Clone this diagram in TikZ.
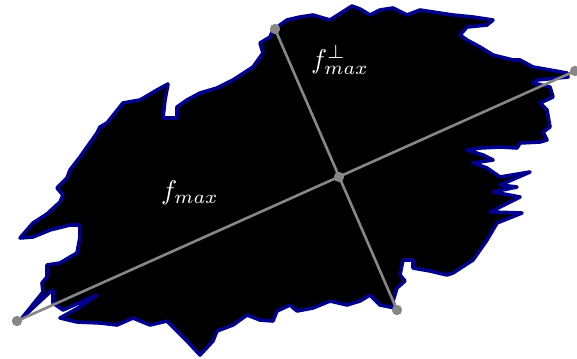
\documentclass[tikz,border=0pt]{standalone}
\begin{document}
\begin{tikzpicture}[x=1pt,y=-1pt,
  blob/.style={fill=black,draw={rgb,255:red,0;green,0;blue,140},line width=3.6pt,line join=round},
  axis/.style={draw={rgb,255:red,135;green,135;blue,135},line width=2.6pt},
  dot/.style={circle,fill={rgb,255:red,135;green,135;blue,135},inner sep=0pt,minimum size=10pt},
  lab/.style={text=white,scale=2.7,inner sep=0pt}]
\useasboundingbox (0,0) rectangle (577,358);
\path[blob] (300,17) -- (313,15) -- (330,20) -- (352,6) -- (360,9) -- (370,15) -- (380,10) -- (393,8)
 -- (407,15) -- (420,10) -- (433,12) -- (453,15) -- (473,17) -- (493,20) -- (487,25) -- (467,27)
 -- (460,35) -- (467,40) -- (480,47) -- (493,55) -- (513,60) -- (520,60) -- (533,67) -- (567,73)
 -- (568,77) -- (537,80) -- (533,83) -- (550,87) -- (553,97) -- (540,103) -- (547,110)
 -- (550,127) -- (543,132) -- (547,140) -- (540,142) -- (520,143) -- (517,148) -- (500,147)
 -- (480,148) -- (467,150) -- (483,155) -- (493,160) -- (473,163) -- (487,168) -- (500,177)
 -- (530,172) -- (500,185) -- (517,187) -- (493,192) -- (520,197) -- (490,212) -- (522,213)
 -- (497,223) -- (487,240) -- (473,260) -- (453,273) -- (447,275) -- (430,271) -- (413,268) -- (413,260)
 -- (403,260) -- (400,275) -- (405,281) -- (397,288) -- (393,301) -- (395,308)
 -- (380,305) -- (370,295) -- (360,301) -- (347,305) -- (330,301) -- (313,308) -- (297,311)
 -- (290,305) -- (277,311) -- (273,321) -- (260,320) -- (247,315) -- (233,325) -- (217,331)
 -- (213,341) -- (200,355) -- (187,341) -- (167,321) -- (150,325) -- (133,318) -- (117,325)
 -- (100,323) -- (77,322) -- (60,318) -- (80,307) -- (97,295) -- (63,310)
 -- (53,303) -- (53,290) -- (50,292) -- (22,318) -- (43,292) -- (42,283)
 -- (47,277) -- (47,265) -- (60,263) -- (70,257) -- (77,253) -- (80,237) -- (80,225)
 -- (70,225) -- (50,230) -- (33,237) -- (20,238) -- (33,223) -- (47,214) -- (60,202) -- (63,195)
 -- (57,188) -- (67,178) -- (70,170) -- (80,157) -- (97,133) -- (100,127) -- (107,123) -- (123,103)
 -- (140,100) -- (157,90) -- (168,84) -- (165,100) -- (163,118) -- (177,118) -- (177,107)
 -- (187,100) -- (200,93) -- (217,88) -- (233,80) -- (253,67) -- (263,53) -- (260,43)
 -- (270,37) -- (273,30) -- (287,20) -- cycle;
\node[dot] (L) at (17,321) {};
\node[dot] (R) at (575,71) {};
\node[dot] (T) at (275,29) {};
\node[dot] (B) at (397,310) {};
\node[dot] (C) at (339,177) {};
\draw[axis] (L.center) -- (R.center);
\draw[axis] (T.center) -- (B.center);
\node[dot] at (L) {};
\node[dot] at (R) {};
\node[dot] at (T) {};
\node[dot] at (B) {};
\node[dot] at (C) {};
\node[lab] (fm) at (190,193) {$f_{max}$};
\node[lab] (fp) at (340,60) {$f_{max}^{\perp}$};
\end{tikzpicture}
\end{document}
